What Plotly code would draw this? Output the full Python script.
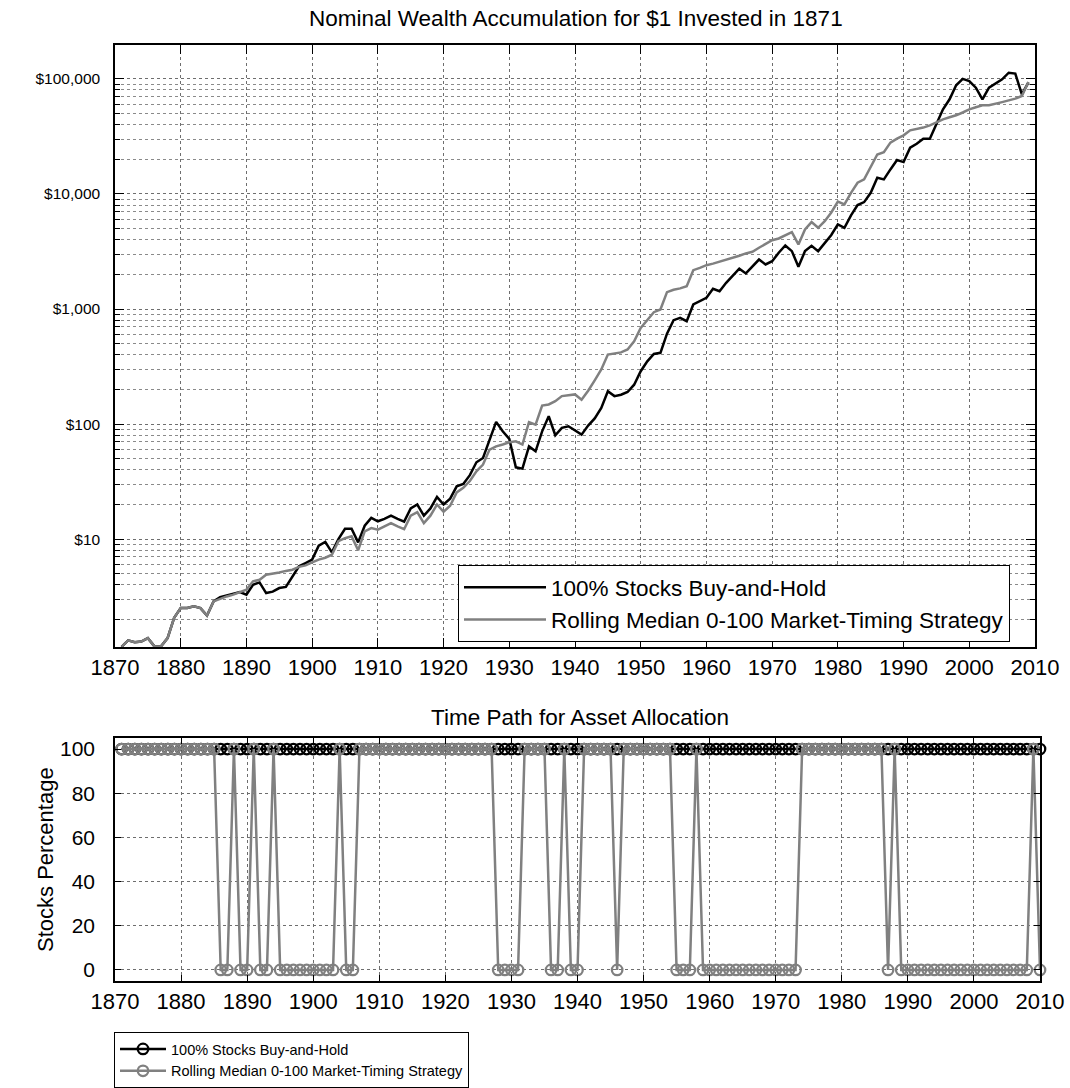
import plotly.graph_objects as go

# ---------------- data ----------------
wealth_years = list(range(1871, 2010))

stocks_wealth = [
    1.16, 1.32, 1.27, 1.29, 1.38, 1.17, 1.17, 1.38, 2.07, 2.52,      # 1871-1880
    2.52, 2.61, 2.52, 2.17, 2.88, 3.14, 3.25, 3.34, 3.47, 3.29,      # 1881-1890
    4.02, 4.21, 3.40, 3.50, 3.76, 3.85, 4.75, 5.81, 6.20, 6.64,      # 1891-1900
    8.77, 9.46, 7.68, 10.0, 12.3, 12.3, 9.38, 13.1, 15.3, 14.3,      # 1901-1910
    15.0, 16.0, 15.0, 14.2, 18.5, 20.0, 16.0, 18.5, 23.3, 20.0,      # 1911-1920
    22.5, 28.8, 30.2, 36.0, 46.6, 50.8, 73.0, 104.5, 86.6, 74.3,     # 1921-1930
    42.1, 41.0, 64.0, 58.0, 86.5, 117, 80, 92.7, 95.7, 87.8,         # 1931-1940
    81, 97, 112, 138, 193, 175, 180, 190, 220, 288,                  # 1941-1950
    351, 407, 416, 610, 800, 838, 784, 1094, 1170, 1250,             # 1951-1960
    1500, 1429, 1690, 1955, 2237, 2037, 2356, 2690, 2437, 2600,      # 1961-1970
    3080, 3566, 3183, 2327, 3183, 3540, 3183, 3765, 4400, 5430,      # 1971-1980
    5080, 6500, 8000, 8490, 10230, 13830, 13370, 16330, 19680, 18900,  # 1981-1990
    25200, 27300, 30200, 30200, 40200, 54300, 66400, 87800, 100000, 95700,  # 1991-2000
    83800, 66400, 83800, 91400, 99000, 113000, 111000, 73300, 93000,  # 2001-2009
]

timing_wealth = [
    1.16, 1.32, 1.27, 1.29, 1.38, 1.17, 1.17, 1.38, 2.07, 2.52,      # 1871-1880
    2.52, 2.61, 2.52, 2.17, 2.88, 3.05, 3.18, 3.30, 3.45, 3.64,      # 1881-1890
    4.30, 4.44, 4.91, 5.00, 5.14, 5.30, 5.43, 5.75, 5.92, 6.28,      # 1891-1900
    6.64, 6.90, 7.33, 9.60, 10.2, 10.6, 8.0, 11.7, 12.5, 12.1,       # 1901-1910
    13.0, 13.8, 12.9, 12.2, 16.0, 17.2, 13.8, 16.0, 20.0, 17.3,      # 1911-1920
    19.5, 25.5, 27.9, 32.0, 38.9, 44.5, 60.0, 64.0, 66.5, 69.5,      # 1921-1930
    70.8, 66.4, 103.8, 99.0, 145, 148, 158, 175, 178, 181,           # 1931-1940
    163, 195, 240, 298, 402, 410, 420, 445, 525, 686,                # 1941-1950
    811, 938, 991, 1400, 1470, 1510, 1580, 2175, 2280, 2404,         # 1951-1960
    2480, 2570, 2680, 2786, 2900, 3040, 3142, 3404, 3690, 3960,      # 1961-1970
    4100, 4350, 4655, 3640, 4910, 5690, 5080, 5800, 6900, 8570,      # 1971-1980
    8110, 10230, 12500, 13370, 16900, 22000, 23000, 27900, 30200, 32300,  # 1981-1990
    35700, 36700, 37700, 39400, 42000, 44500, 46300, 48200, 51000, 54300,  # 1991-2000
    56700, 58900, 58900, 60500, 62800, 65000, 67300, 70900, 93800,   # 2001-2009
]

alloc_years = list(range(1871, 2011))

stocks_alloc = [100] * 140

timing_alloc = [
    100, 100, 100, 100, 100, 100, 100, 100, 100, 100,   # 1871-1880
    100, 100, 100, 100, 100, 0, 0, 100, 0, 0,           # 1881-1890
    100, 0, 0, 100, 0, 0, 0, 0, 0, 0,                   # 1891-1900
    0, 0, 0, 100, 0, 0, 100, 100, 100, 100,             # 1901-1910
    100, 100, 100, 100, 100, 100, 100, 100, 100, 100,   # 1911-1920
    100, 100, 100, 100, 100, 100, 100, 0, 0, 0,         # 1921-1930
    0, 100, 100, 100, 100, 0, 0, 100, 0, 0,             # 1931-1940
    100, 100, 100, 100, 100, 0, 100, 100, 100, 100,     # 1941-1950
    100, 100, 100, 100, 0, 0, 0, 100, 0, 0,             # 1951-1960
    0, 0, 0, 0, 0, 0, 0, 0, 0, 0,                       # 1961-1970
    0, 0, 0, 100, 100, 100, 100, 100, 100, 100,         # 1971-1980
    100, 100, 100, 100, 100, 100, 0, 100, 0, 0,         # 1981-1990
    0, 0, 0, 0, 0, 0, 0, 0, 0, 0,                       # 1991-2000
    0, 0, 0, 0, 0, 0, 0, 0, 100, 0,                     # 2001-2010
]

name_stocks = "100% Stocks Buy-and-Hold"
name_timing = "Rolling Median 0-100 Market-Timing Strategy"
title_top = "Nominal Wealth Accumulation for $1 Invested in 1871"
title_bottom = "Time Path for Asset Allocation"

# ---------------- figure ----------------
W, H = 1070, 1088
BLACK = "#000000"
GRAY = "#808080"
FONT = "Arial, Liberation Sans, sans-serif"

fig = go.Figure()

fig.add_trace(go.Scatter(x=wealth_years, y=stocks_wealth, mode="lines", name=name_stocks,
                         line=dict(color=BLACK, width=2.5), xaxis="x", yaxis="y",
                         legend="legend", legendgroup="a"))
fig.add_trace(go.Scatter(x=wealth_years, y=timing_wealth, mode="lines", name=name_timing,
                         line=dict(color=GRAY, width=2.5), xaxis="x", yaxis="y",
                         legend="legend", legendgroup="b"))

fig.add_trace(go.Scatter(x=alloc_years, y=stocks_alloc, mode="lines+markers", name=name_stocks,
                         line=dict(color=BLACK, width=2.5),
                         marker=dict(symbol="circle-open", size=10.5, color=BLACK, line=dict(width=2.3)),
                         xaxis="x2", yaxis="y2", legend="legend2", legendgroup="c",
                         cliponaxis=False))
fig.add_trace(go.Scatter(x=alloc_years, y=timing_alloc, mode="lines+markers", name=name_timing,
                         line=dict(color=GRAY, width=2.5),
                         marker=dict(symbol="circle-open", size=10.5, color=GRAY, line=dict(width=2.3)),
                         xaxis="x2", yaxis="y2", legend="legend2", legendgroup="d",
                         cliponaxis=False))


def px_x(p):
    return p / W


def px_y(p):
    return 1 - p / H


grid = dict(showgrid=True, gridcolor="#6e6e6e", gridwidth=1, griddash="dot")


def axline(size):
    return dict(showline=True, linecolor=BLACK, linewidth=1.5, mirror="allticks",
                ticks="inside", tickcolor=BLACK, tickwidth=1, zeroline=False,
                automargin=False, tickfont=dict(family=FONT, size=size, color=BLACK))


fig.update_layout(
    template="none",
    width=W, height=H, autosize=False,
    margin=dict(l=0, r=0, t=0, b=0),
    paper_bgcolor="white", plot_bgcolor="white",
    font=dict(family=FONT, size=18, color=BLACK),
    xaxis=dict(domain=[px_x(115), px_x(1035)], range=[1870, 2010], tick0=1870, dtick=10,
               ticklen=9, anchor="y", **grid, **axline(22)),
    yaxis=dict(domain=[px_y(647), px_y(45)], type="log", range=[0.063, 5.294], dtick=1,
               tickprefix="$", exponentformat="none", separatethousands=True,
               ticklen=9, anchor="x", ticklabelstandoff=10,
               minor=dict(dtick="D1", ticks="inside", ticklen=5, tickcolor=BLACK,
                          showgrid=True, gridcolor="#8a8a8a", gridwidth=1, griddash="dot"),
               **grid, **axline(15.5)),
    xaxis2=dict(domain=[px_x(115), px_x(1040)], range=[1870, 2010], tick0=1870, dtick=10,
                ticklen=6, anchor="y2", **grid, **axline(22)),
    yaxis2=dict(domain=[px_y(981), px_y(738)], range=[-5, 105], tick0=0, dtick=20,
                ticklen=6, anchor="x2", ticklabelstandoff=14, **grid, **axline(21)),
    legend=dict(x=px_x(458), y=px_y(565), xanchor="left", yanchor="top",
                bgcolor="white", bordercolor=BLACK, borderwidth=1,
                font=dict(family=FONT, size=22.5, color=BLACK), itemwidth=82,
                tracegroupgap=0, traceorder="normal"),
    legend2=dict(x=px_x(114), y=px_y(1032), xanchor="left", yanchor="top",
                 bgcolor="white", bordercolor=BLACK, borderwidth=1,
                 font=dict(family=FONT, size=14.5, color=BLACK), itemwidth=46,
                 tracegroupgap=12, traceorder="normal"),
    annotations=[
        dict(text=title_top, x=px_x(576), y=px_y(19), xref="paper", yref="paper",
             showarrow=False, xanchor="center", yanchor="middle",
             font=dict(family=FONT, size=22.5, color=BLACK)),
        dict(text=title_bottom, x=px_x(580), y=px_y(717), xref="paper", yref="paper",
             showarrow=False, xanchor="center", yanchor="middle",
             font=dict(family=FONT, size=22.5, color=BLACK)),
        dict(text="Stocks Percentage", x=px_x(45), y=px_y(860), xref="paper", yref="paper",
             showarrow=False, textangle=-90, xanchor="center", yanchor="middle",
             font=dict(family=FONT, size=22, color=BLACK)),
    ],
)

fig.write_html("out.html", config={"displayModeBar": False},
               post_script="document.body.style.margin='0';")
